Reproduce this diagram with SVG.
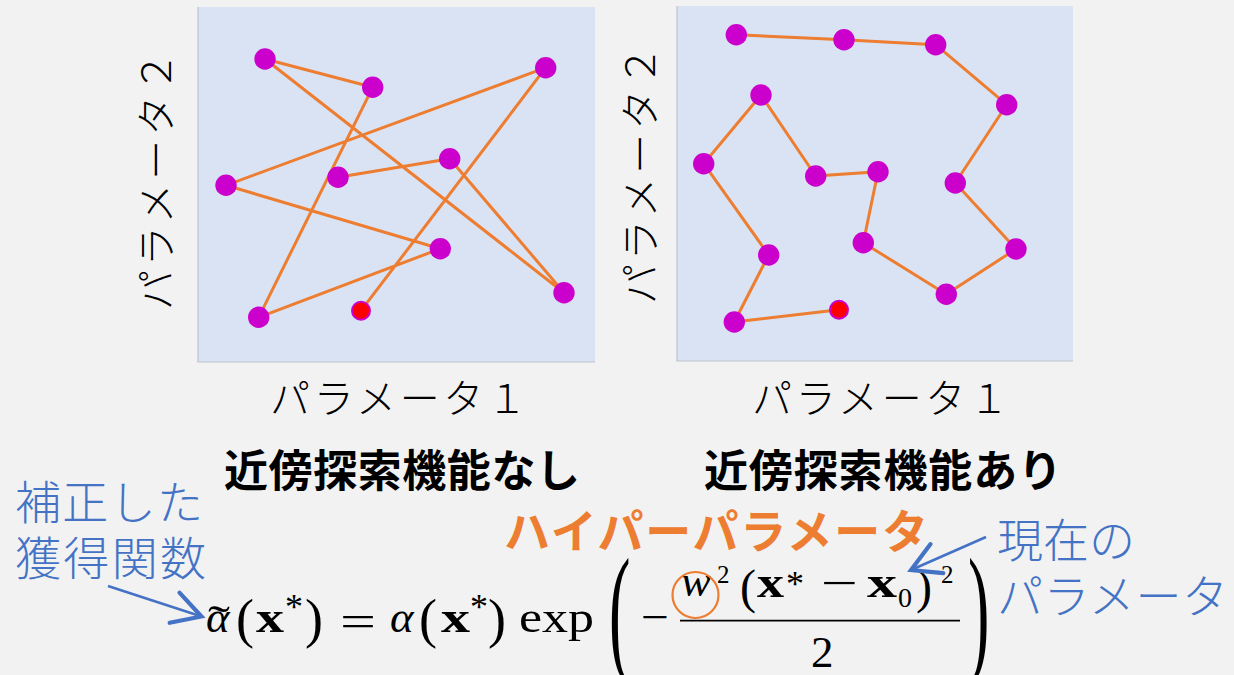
<svg xmlns="http://www.w3.org/2000/svg" width="1234" height="675" viewBox="0 0 1234 675">
<defs>
<style>
.bg{fill:#F2F2F2}
.plot{fill:#DAE3F3}
.edge{fill:none;stroke:#BFC3CA;stroke-width:1.2}
.trail{fill:none;stroke:#ED7D31;stroke-width:3;stroke-linejoin:round}
.dot{fill:#CC00CC}
.cur{fill:#FF0000}
.ax{font-family:"Noto Sans CJK JP","Noto Sans",sans-serif;font-size:40px;font-weight:300;fill:#000}
.ttl{font-family:"Noto Sans CJK JP","Noto Sans",sans-serif;font-size:44px;font-weight:700;fill:#000}
.note{font-family:"Noto Sans CJK JP","Noto Sans",sans-serif;font-size:46px;font-weight:300;fill:#4472C4}
.hp{font-family:"Noto Sans CJK JP","Noto Sans",sans-serif;font-size:46px;font-weight:700;fill:#ED7D31}
.m{font-family:"Liberation Serif","DejaVu Serif",serif;fill:#000}
.mi{font-family:"Liberation Serif","DejaVu Serif",serif;font-style:italic;fill:#000}
.mb{font-family:"Liberation Serif","DejaVu Serif",serif;font-weight:700;fill:#000}
.arr{fill:none;stroke:#4472C4;stroke-width:2.5;marker-end:url(#head)}
</style>
<marker id="head" markerUnits="userSpaceOnUse" markerWidth="40" markerHeight="40" viewBox="-20 -12 24 24" refX="0" refY="0" orient="auto">
<path d="M-17,-9.5 L0,0 L-17,9.5" fill="none" stroke="#4472C4" stroke-width="2.5" stroke-linecap="round" stroke-linejoin="miter"/>
</marker>
</defs>
<rect class="bg" x="0" y="0" width="1234" height="675"/>

<g id="plot-without">
<rect class="plot" x="198" y="7" width="397" height="355"/>
<polyline class="edge" points="198,7 198,362 595,362"/>
<polyline class="trail" points="361,310.7 545.7,67.7 226,185.3 440.3,248.7 258.7,317.3 372.7,87.3 265,59 564,292.7 449.7,158.7 338,177.3"/>
<circle class="dot" cx="265" cy="59" r="10.7"/>
<circle class="dot" cx="372.7" cy="87.3" r="10.7"/>
<circle class="dot" cx="545.7" cy="67.7" r="10.7"/>
<circle class="dot" cx="226" cy="185.3" r="10.7"/>
<circle class="dot" cx="338" cy="177.3" r="10.7"/>
<circle class="dot" cx="449.7" cy="158.7" r="10.7"/>
<circle class="dot" cx="440.3" cy="248.7" r="10.7"/>
<circle class="dot" cx="564" cy="292.7" r="10.7"/>
<circle class="dot" cx="258.7" cy="317.3" r="10.7"/>
<circle class="dot" cx="361" cy="310.7" r="10"/>
<circle class="cur" cx="361" cy="310.7" r="8"/>
</g>

<g id="plot-with">
<rect class="plot" x="677" y="6" width="396" height="355"/>
<polyline class="edge" points="677,6 677,361 1073,361"/>
<polyline class="trail" points="736.3,34.7 844,39.7 935.7,44.7 1006.7,104.7 955.3,183 1016,249 946.3,294.3 863.3,242.7 878,171.7 815.7,176 761,95 703.7,163.7 768.7,255 734.3,322 839,309.7"/>
<circle class="dot" cx="736.3" cy="34.7" r="10.7"/>
<circle class="dot" cx="844" cy="39.7" r="10.7"/>
<circle class="dot" cx="935.7" cy="44.7" r="10.7"/>
<circle class="dot" cx="1006.7" cy="104.7" r="10.7"/>
<circle class="dot" cx="955.3" cy="183" r="10.7"/>
<circle class="dot" cx="1016" cy="249" r="10.7"/>
<circle class="dot" cx="946.3" cy="294.3" r="10.7"/>
<circle class="dot" cx="863.3" cy="242.7" r="10.7"/>
<circle class="dot" cx="878" cy="171.7" r="10.7"/>
<circle class="dot" cx="815.7" cy="176" r="10.7"/>
<circle class="dot" cx="761" cy="95" r="10.7"/>
<circle class="dot" cx="703.7" cy="163.7" r="10.7"/>
<circle class="dot" cx="768.7" cy="255" r="10.7"/>
<circle class="dot" cx="734.3" cy="322" r="10.7"/>
<circle class="dot" cx="839" cy="309.7" r="10"/>
<circle class="cur" cx="839" cy="309.7" r="8"/>
</g>

<g id="axis-labels">
<text class="ax" transform="translate(171,310) rotate(-90)" x="0" y="0" textLength="258" lengthAdjust="spacing">パラメータ２</text>
<text class="ax" transform="translate(655,304) rotate(-90)" x="0" y="0" textLength="258" lengthAdjust="spacing">パラメータ２</text>
<text class="ax" x="270" y="413" textLength="257" lengthAdjust="spacing">パラメータ１</text>
<text class="ax" x="752" y="413" textLength="257" lengthAdjust="spacing">パラメータ１</text>
</g>

<g id="titles">
<text class="ttl" x="224" y="487" textLength="356" lengthAdjust="spacing">近傍探索機能なし</text>
<text class="ttl" x="704" y="487" textLength="358" lengthAdjust="spacing">近傍探索機能あり</text>
</g>

<g id="note-corrected">
<text class="note" x="15" y="519" textLength="188" lengthAdjust="spacing">補正した</text>
<text class="note" x="15" y="575" textLength="191" lengthAdjust="spacing">獲得関数</text>
</g>

<g id="note-hyper">
<text class="hp" x="504" y="548" textLength="424" lengthAdjust="spacing">ハイパーパラメータ</text>
</g>

<g id="note-current">
<text class="note" x="997" y="557" textLength="138" lengthAdjust="spacing">現在の</text>
<text class="note" x="997" y="613" textLength="231" lengthAdjust="spacing">パラメータ</text>
</g>

<g id="formula">
<text class="m" style="font-size:45px" x="208" y="636" textLength="22" lengthAdjust="spacingAndGlyphs">˜</text>
<text class="mi" style="font-size:45px" x="206" y="632">α</text>
<text class="m" style="font-size:54px" x="236" y="637">(</text>
<text class="mb" style="font-size:45px" x="256" y="632" textLength="28" lengthAdjust="spacingAndGlyphs">x</text>
<text class="m" style="font-size:36px" x="285" y="619">*</text>
<text class="m" style="font-size:54px" x="305" y="637">)</text>
<text class="m" style="font-size:45px" x="340" y="636" textLength="36" lengthAdjust="spacingAndGlyphs">=</text>
<text class="mi" style="font-size:45px" x="390" y="632">α</text>
<text class="m" style="font-size:54px" x="419" y="637">(</text>
<text class="mb" style="font-size:45px" x="441" y="632" textLength="29" lengthAdjust="spacingAndGlyphs">x</text>
<text class="m" style="font-size:36px" x="470" y="619">*</text>
<text class="m" style="font-size:54px" x="488" y="637">)</text>
<text class="m" style="font-size:45px" x="519" y="632" textLength="75" lengthAdjust="spacingAndGlyphs">exp</text>
<text class="m" style="font-size:143px" transform="translate(609,658) scale(0.45,1)" x="0" y="0">(</text>
<text class="m" style="font-size:45px" x="641" y="632" textLength="28" lengthAdjust="spacingAndGlyphs">−</text>
<text class="mi" style="font-size:45px" x="681" y="596">w</text>
<text class="m" style="font-size:25px" x="717" y="583">2</text>
<text class="m" style="font-size:48px" x="740" y="603">(</text>
<text class="mb" style="font-size:45px" x="757" y="597" textLength="27" lengthAdjust="spacingAndGlyphs">x</text>
<text class="m" style="font-size:36px" x="786" y="596">*</text>
<text class="m" style="font-size:45px" x="821" y="598" textLength="37" lengthAdjust="spacingAndGlyphs">−</text>
<text class="mb" style="font-size:45px" x="867" y="597" textLength="30" lengthAdjust="spacingAndGlyphs">x</text>
<text class="m" style="font-size:28px" x="898" y="607">0</text>
<text class="m" style="font-size:48px" x="916" y="603">)</text>
<text class="m" style="font-size:25px" x="941" y="583">2</text>
<line x1="680" y1="620.7" x2="960" y2="620.7" stroke="#000" stroke-width="1.8"/>
<text class="m" style="font-size:45px" x="811" y="667">2</text>
<text class="m" style="font-size:143px" transform="translate(968,658) scale(0.45,1)" x="0" y="0">)</text>
<circle cx="695.5" cy="595" r="23" fill="none" stroke="#ED7D31" stroke-width="2.2"/>
</g>

<g id="connectors">
<line class="arr" x1="108" y1="586" x2="201.5" y2="616.5"/>
<line class="arr" x1="986" y1="537" x2="911" y2="570"/>
</g>
</svg>
